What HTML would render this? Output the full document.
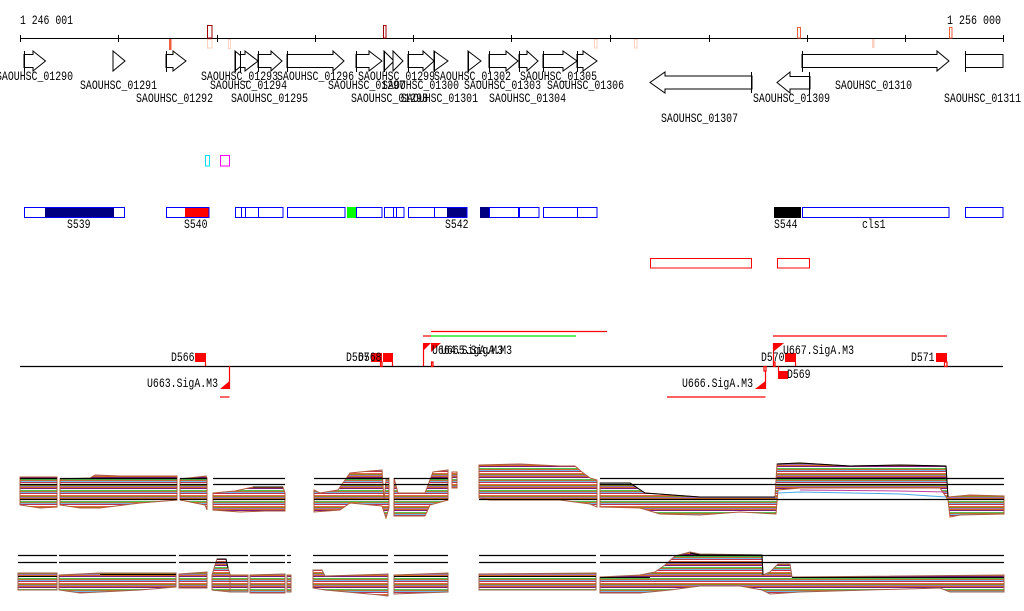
<!DOCTYPE html>
<html><head><meta charset="utf-8"><style>
html,body{margin:0;padding:0;background:#fff;}
svg{display:block;}
text{font-family:"Liberation Mono","DejaVu Sans Mono",monospace;font-size:13px;fill:#000;}
</style></head><body>
<svg width="1024" height="611" viewBox="0 0 1024 611" xmlns="http://www.w3.org/2000/svg">
<defs>
<pattern id="st" width="40" height="11" patternUnits="userSpaceOnUse">
<rect width="40" height="11" fill="#fff"/>
<rect y="0" width="40" height="1" fill="#e8603c"/>
<rect y="1" width="40" height="1" fill="#8a8a1a"/>
<rect y="2" width="40" height="1" fill="#a070c0"/>
<rect y="3" width="40" height="1" fill="#d2691e"/>
<rect y="4" width="40" height="1" fill="#7a1a7a"/>
<rect y="6" width="40" height="1" fill="#4fc04f"/>
<rect y="7" width="40" height="1" fill="#c07030"/>
<rect y="8" width="40" height="1" fill="#70b8e8"/>
<rect y="9" width="40" height="1" fill="#c03050"/>
</pattern>
</defs>

<!-- top axis -->
<text x="20" y="24" textLength="53" lengthAdjust="spacingAndGlyphs">1 246 001</text>
<text x="947" y="24" textLength="54" lengthAdjust="spacingAndGlyphs">1 256 000</text>
<line x1="20" y1="38.5" x2="1003" y2="38.5" stroke="#000" stroke-width="1"/>
<g stroke="#000" stroke-width="1">
<line x1="20.5" y1="35" x2="20.5" y2="42"/><line x1="118.5" y1="35" x2="118.5" y2="42"/>
<line x1="217.5" y1="35" x2="217.5" y2="42"/><line x1="315.5" y1="35" x2="315.5" y2="42"/>
<line x1="413.5" y1="35" x2="413.5" y2="42"/><line x1="511.5" y1="35" x2="511.5" y2="42"/>
<line x1="610.5" y1="35" x2="610.5" y2="42"/><line x1="709.5" y1="35" x2="709.5" y2="42"/>
<line x1="807.5" y1="35" x2="807.5" y2="42"/><line x1="905.5" y1="35" x2="905.5" y2="42"/>
<line x1="1003.5" y1="35" x2="1003.5" y2="42"/>
</g>
<rect x="169" y="39" width="2.5" height="11" fill="#f06040"/>
<rect x="207.5" y="25.5" width="4.5" height="12.5" fill="none" stroke="#a00000"/>
<rect x="207.5" y="39.5" width="4.5" height="8.5" fill="none" stroke="#fbd0c0"/>
<rect x="228.5" y="39.5" width="2" height="9" fill="none" stroke="#fbd0c0"/>
<rect x="383.5" y="25.5" width="2.5" height="12.5" fill="none" stroke="#a00000"/>
<rect x="594.5" y="39.5" width="2.5" height="8.5" fill="none" stroke="#fbd0c0"/>
<rect x="634.5" y="39.5" width="2.5" height="8.5" fill="none" stroke="#fbd0c0"/>
<rect x="797.5" y="27.5" width="3" height="10.5" fill="none" stroke="#f06040"/>
<rect x="872" y="39" width="2.5" height="9" fill="#fbd0c0"/>
<rect x="949.5" y="27.5" width="2.5" height="10.5" fill="none" stroke="#f06040"/>

<!-- genes -->
<g fill="#fff" stroke="#000" stroke-width="1">
<polygon points="24,54.5 33,54.5 33,51 45.5,61 33,71 33,67.5 24,67.5"/>
<polygon points="113,51 125,61 113,71"/>
<polygon points="166,54.5 173,54.5 173,51 186,61 173,71 173,67.5 166,67.5"/>
<polygon points="235,51 247,61 235,71"/>
<polygon points="240.5,54.5 245,54.5 245,51 258,61 245,71 245,67.5 240.5,67.5"/>
<polygon points="258,54.5 271,54.5 271,51 282,61 271,71 271,67.5 258,67.5"/>
<polygon points="287,54.5 333,54.5 333,51 344,61 333,71 333,67.5 287,67.5"/>
<polygon points="356,54.5 369,54.5 369,51 382,61 369,71 369,67.5 356,67.5"/>
<polygon points="384,51 394,61 384,71"/>
<polygon points="393,51 403,61 393,71"/>
<polygon points="408,54.5 423,54.5 423,51 434,61 423,71 423,67.5 408,67.5"/>
<polygon points="434,51 448,61 434,71"/>
<polygon points="468,51 481,61 468,71"/>
<polygon points="489,54.5 506,54.5 506,51 518,61 506,71 506,67.5 489,67.5"/>
<polygon points="519,54.5 527,54.5 527,51 538,61 527,71 527,67.5 519,67.5"/>
<polygon points="543,54.5 563,54.5 563,51 577,61 563,71 563,67.5 543,67.5"/>
<polygon points="577,54.5 583,54.5 583,51 597,61 583,71 583,67.5 577,67.5"/>
<polygon points="802,54.5 937,54.5 937,51 949,61 937,71 937,67.5 802,67.5"/>
<rect x="965.5" y="54.5" width="37.5" height="13"/>
<polygon points="752,76 665,76 665,72 650,82.5 665,93 665,89 752,89"/>
<polygon points="810,76.5 790,76.5 790,72 777,82.5 790,93 790,89 810,89"/>
</g>
<g stroke="#000" stroke-width="1">
<line x1="24.5" y1="51" x2="24.5" y2="72"/><line x1="166.5" y1="51" x2="166.5" y2="72"/>
<line x1="235.5" y1="51" x2="235.5" y2="72"/><line x1="240.5" y1="51" x2="240.5" y2="72"/>
<line x1="258.5" y1="51" x2="258.5" y2="72"/><line x1="287.5" y1="51" x2="287.5" y2="72"/>
<line x1="356.5" y1="51" x2="356.5" y2="72"/><line x1="384.5" y1="51" x2="384.5" y2="72"/>
<line x1="408.5" y1="51" x2="408.5" y2="72"/><line x1="434.5" y1="51" x2="434.5" y2="72"/>
<line x1="468.5" y1="51" x2="468.5" y2="72"/><line x1="489.5" y1="51" x2="489.5" y2="72"/>
<line x1="519.5" y1="51" x2="519.5" y2="72"/><line x1="543.5" y1="51" x2="543.5" y2="72"/>
<line x1="577.5" y1="51" x2="577.5" y2="72"/><line x1="802.5" y1="51" x2="802.5" y2="72"/>
<line x1="965.5" y1="51" x2="965.5" y2="72"/>
<line x1="751.5" y1="72" x2="751.5" y2="93"/><line x1="809.5" y1="72" x2="809.5" y2="94"/>
</g>
<g>
<text x="-4" y="80" textLength="77" lengthAdjust="spacingAndGlyphs">SAOUHSC_01290</text>
<text x="201" y="80" textLength="77" lengthAdjust="spacingAndGlyphs">SAOUHSC_01293</text>
<text x="277" y="80" textLength="77" lengthAdjust="spacingAndGlyphs">SAOUHSC_01296</text>
<text x="358" y="80" textLength="77" lengthAdjust="spacingAndGlyphs">SAOUHSC_01299</text>
<text x="434" y="80" textLength="77" lengthAdjust="spacingAndGlyphs">SAOUHSC_01302</text>
<text x="520" y="80" textLength="77" lengthAdjust="spacingAndGlyphs">SAOUHSC_01305</text>
<text x="80" y="89" textLength="77" lengthAdjust="spacingAndGlyphs">SAOUHSC_01291</text>
<text x="210" y="89" textLength="77" lengthAdjust="spacingAndGlyphs">SAOUHSC_01294</text>
<text x="328" y="89" textLength="77" lengthAdjust="spacingAndGlyphs">SAOUHSC_01297</text>
<text x="382" y="89" textLength="77" lengthAdjust="spacingAndGlyphs">SAOUHSC_01300</text>
<text x="464" y="89" textLength="77" lengthAdjust="spacingAndGlyphs">SAOUHSC_01303</text>
<text x="547" y="89" textLength="77" lengthAdjust="spacingAndGlyphs">SAOUHSC_01306</text>
<text x="835" y="89" textLength="77" lengthAdjust="spacingAndGlyphs">SAOUHSC_01310</text>
<text x="136" y="102" textLength="77" lengthAdjust="spacingAndGlyphs">SAOUHSC_01292</text>
<text x="231" y="102" textLength="77" lengthAdjust="spacingAndGlyphs">SAOUHSC_01295</text>
<text x="351" y="102" textLength="77" lengthAdjust="spacingAndGlyphs">SAOUHSC_01298</text>
<text x="401" y="102" textLength="77" lengthAdjust="spacingAndGlyphs">SAOUHSC_01301</text>
<text x="489" y="102" textLength="77" lengthAdjust="spacingAndGlyphs">SAOUHSC_01304</text>
<text x="753" y="102" textLength="77" lengthAdjust="spacingAndGlyphs">SAOUHSC_01309</text>
<text x="944" y="102" textLength="77" lengthAdjust="spacingAndGlyphs">SAOUHSC_01311</text>
<text x="661" y="122" textLength="77" lengthAdjust="spacingAndGlyphs">SAOUHSC_01307</text>
</g>

<!-- sRNA small boxes -->
<rect x="205.5" y="155.5" width="4" height="10.5" fill="none" stroke="#00e0ff"/>
<rect x="220.5" y="155.5" width="9" height="10.5" fill="none" stroke="#ff00ff"/>

<!-- feature boxes -->
<rect x="45" y="207" width="69" height="11" fill="#000080"/>
<rect x="185" y="207" width="24" height="11" fill="#ff0000"/>
<rect x="347" y="207" width="9" height="11" fill="#00ff00"/>
<rect x="447" y="207" width="20" height="11" fill="#000080"/>
<rect x="480" y="207" width="9" height="11" fill="#000080"/>
<rect x="774" y="207" width="27" height="11" fill="#000000"/>
<g fill="none" stroke="#0000ff" stroke-width="1">
<rect x="24.5" y="207.5" width="100" height="10"/>
<rect x="166.5" y="207.5" width="42.5" height="10"/>
<rect x="235.5" y="207.5" width="47.5" height="10"/>
<line x1="241.5" y1="207.5" x2="241.5" y2="217.5"/><line x1="245.5" y1="207.5" x2="245.5" y2="217.5"/><line x1="258.5" y1="207.5" x2="258.5" y2="217.5"/>
<rect x="287.5" y="207.5" width="57.5" height="10"/>
<rect x="356.5" y="207.5" width="25.5" height="10"/>
<rect x="384.5" y="207.5" width="19.5" height="10"/>
<line x1="393.5" y1="207.5" x2="393.5" y2="217.5"/><line x1="396.5" y1="207.5" x2="396.5" y2="217.5"/>
<rect x="408.5" y="207.5" width="58.5" height="10"/>
<line x1="434.5" y1="207.5" x2="434.5" y2="217.5"/>
<rect x="489.5" y="207.5" width="29" height="10"/>
<rect x="519.5" y="207.5" width="19.5" height="10"/>
<rect x="543.5" y="207.5" width="53.5" height="10"/>
<line x1="577.5" y1="207.5" x2="577.5" y2="217.5"/>
<rect x="802.5" y="207.5" width="146.5" height="10"/>
<rect x="965.5" y="207.5" width="37.5" height="10"/>
</g>
<text x="67" y="228" textLength="23.5" lengthAdjust="spacingAndGlyphs">S539</text>
<text x="184" y="228" textLength="23.5" lengthAdjust="spacingAndGlyphs">S540</text>
<text x="445" y="228" textLength="23.5" lengthAdjust="spacingAndGlyphs">S542</text>
<text x="774" y="228" textLength="23.5" lengthAdjust="spacingAndGlyphs">S544</text>
<text x="862" y="228" textLength="23.5" lengthAdjust="spacingAndGlyphs">cls1</text>

<rect x="650.5" y="258.5" width="101" height="9.5" fill="none" stroke="#ff0000"/>
<rect x="777.5" y="258.5" width="32" height="9.5" fill="none" stroke="#ff0000"/>

<!-- transcript track -->
<line x1="20" y1="366.5" x2="1003" y2="366.5" stroke="#000" stroke-width="1.2"/>
<g stroke="#ff0000" stroke-width="1.2" fill="none">
<line x1="423" y1="336" x2="431" y2="336"/>
<line x1="431" y1="331.5" x2="607" y2="331.5"/>
<line x1="773" y1="336" x2="947" y2="336"/>
<line x1="220" y1="397" x2="229.5" y2="397"/>
<line x1="667" y1="397" x2="765.5" y2="397"/>
<line x1="205.5" y1="362" x2="205.5" y2="366"/>
<line x1="229.5" y1="366" x2="229.5" y2="389"/>
<rect x="380.5" y="362" width="1.5" height="4.5"/>
<line x1="392.5" y1="362" x2="392.5" y2="366"/>
<line x1="423.5" y1="343" x2="423.5" y2="366"/>
<rect x="431.5" y="362" width="1.5" height="4.5"/>
<line x1="773.5" y1="343" x2="773.5" y2="366"/>
<rect x="773.5" y="362" width="1.5" height="4.5"/>
<line x1="795.5" y1="362" x2="795.5" y2="366"/>
<line x1="778.5" y1="366" x2="778.5" y2="371"/>
<line x1="765.5" y1="371" x2="765.5" y2="389"/>
<rect x="764" y="366.5" width="2" height="4.5"/>
<rect x="944.5" y="362" width="2.5" height="4.5"/>
</g>
<line x1="431" y1="336" x2="576" y2="336" stroke="#00e000" stroke-width="1.2"/>
<g fill="#ff0000">
<rect x="195" y="353" width="11" height="9"/>
<rect x="371" y="353" width="11" height="9"/>
<rect x="383" y="353" width="10" height="9"/>
<rect x="785" y="353" width="11" height="9"/>
<rect x="778" y="371" width="10" height="8"/>
<rect x="936" y="353" width="11" height="9"/>
<polygon points="220,389 229.5,389 229.5,381"/>
<polygon points="755,389 765.5,389 765.5,381"/>
<polygon points="423,343 431,343 423,351"/>
<polygon points="431,343 441,343 431,352"/>
<polygon points="773,343 784,343 773,352"/>
</g>
<text x="171" y="361" textLength="23.5" lengthAdjust="spacingAndGlyphs">D566</text>
<text x="346" y="361" textLength="23.5" lengthAdjust="spacingAndGlyphs">D567</text>
<text x="358" y="361" textLength="23.5" lengthAdjust="spacingAndGlyphs">D568</text>
<text x="147" y="387" textLength="71" lengthAdjust="spacingAndGlyphs">U663.SigA.M3</text>
<text x="432" y="354" textLength="71" lengthAdjust="spacingAndGlyphs">U664.SigA.M3</text>
<text x="441" y="354" textLength="71" lengthAdjust="spacingAndGlyphs">U665.SigA.M3</text>
<text x="783" y="354" textLength="71" lengthAdjust="spacingAndGlyphs">U667.SigA.M3</text>
<text x="761" y="361" textLength="23.5" lengthAdjust="spacingAndGlyphs">D570</text>
<text x="787" y="378" textLength="23.5" lengthAdjust="spacingAndGlyphs">D569</text>
<text x="682" y="387" textLength="71" lengthAdjust="spacingAndGlyphs">U666.SigA.M3</text>
<text x="911" y="361" textLength="23.5" lengthAdjust="spacingAndGlyphs">D571</text>

<!-- expression track A -->
<g fill="url(#st)" stroke="#b05a3a" stroke-width="1">
<polygon points="20,477 57,477 57,507 40,508 20,505"/>
<polygon points="60,479 90,478 95,475 120,476 177,476 177,500 140,503 100,508 80,508 60,505"/>
<polygon points="180,479 206,476 207,478 207,510 205,505 180,500"/>
<polygon points="213,493 235,491 253,487 283,487 285,493 285,511 265,511 240,512 213,510"/>
<polygon points="314,490 320,493 338,490 350,473 370,471 382,470 384,500 386,480 389,478 389,508 386,518 382,506 350,503 340,510 314,512"/>
<polygon points="394,478 398,493 425,493 433,472 448,470 448,500 430,505 425,516 394,516"/>
<polygon points="452,472 457,472 457,488 452,488"/>
<polygon points="479,465 520,464 560,466 575,466 582,472 590,478 597,480 597,507 590,504 560,500 520,500 490,500 479,498"/>
<polygon points="600,483 630,483 645,493 700,497 775,497 777,464 800,463 850,466 900,465 946,466 948,497 970,495 1004,496 1004,514 960,515 950,517 948,500 940,488 800,488 778,490 776,514 740,512 700,515 660,514 640,508 600,507"/>
</g>
<g fill="none" stroke-width="1">
<polyline points="778,493 800,492 900,494 946,497" stroke="#4aa8e8"/>
<polyline points="800,490 900,491 946,492" stroke="#c040a0"/>
<polyline points="600,483 630,483 645,493 700,497 775,497" stroke="#000"/>
<polyline points="777,464 800,463 850,466 900,465 946,466 948,497" stroke="#000"/>
<polyline points="253,487 283,487" stroke="#000"/>
</g>
<g stroke="#000" stroke-width="1.2">
<line x1="20" y1="478.5" x2="57" y2="478.5"/><line x1="20" y1="484.5" x2="57" y2="484.5"/><line x1="20" y1="499.5" x2="57" y2="499.5"/>
<line x1="60" y1="478.5" x2="177" y2="478.5"/><line x1="60" y1="484.5" x2="177" y2="484.5"/><line x1="60" y1="499.5" x2="177" y2="499.5"/>
<line x1="180" y1="478.5" x2="207" y2="478.5"/><line x1="180" y1="484.5" x2="207" y2="484.5"/><line x1="180" y1="499.5" x2="207" y2="499.5"/>
<line x1="213" y1="478.5" x2="285" y2="478.5"/><line x1="213" y1="484.5" x2="285" y2="484.5"/><line x1="213" y1="499.5" x2="285" y2="499.5"/>
<line x1="314" y1="478.5" x2="389" y2="478.5"/><line x1="314" y1="484.5" x2="389" y2="484.5"/><line x1="314" y1="499.5" x2="389" y2="499.5"/>
<line x1="394" y1="478.5" x2="448" y2="478.5"/><line x1="394" y1="484.5" x2="448" y2="484.5"/><line x1="394" y1="499.5" x2="448" y2="499.5"/>
<line x1="479" y1="499.5" x2="597" y2="499.5"/>
<line x1="600" y1="478.5" x2="1004" y2="478.5"/><line x1="600" y1="484.5" x2="1004" y2="484.5"/><line x1="600" y1="499.5" x2="1004" y2="499.5"/>
</g>

<!-- expression track B -->
<g fill="url(#st)" stroke="#a0604a" stroke-width="1">
<polygon points="18,573 57,573 57,590 18,590"/>
<polygon points="59,575 100,573 176,573 176,587 140,590 100,592 80,593 59,590"/>
<polygon points="179,574 207,572 207,588 179,588"/>
<polygon points="212,575 215,565 217,559 226,559 228,568 230,574 230,592 212,590"/>
<polygon points="230,575 248,575 248,592 230,592"/>
<polygon points="250,575 285,574 285,593 250,593"/>
<polygon points="287,575 291,575 291,592 287,592"/>
<polygon points="313,570 322,570 325,576 388,574 388,596 380,595 325,590 313,588"/>
<polygon points="394,575 448,573 448,592 394,594"/>
<polygon points="479,574 596,573 596,590 479,590"/>
<polygon points="600,577 640,575 655,572 665,565 675,556 690,552 700,554 762,555 763,575 770,572 778,564 790,564 792,577 1004,575 1004,592 950,592 940,588 800,592 770,594 762,590 740,586 700,586 670,590 640,593 600,593"/>
</g>
<g fill="none" stroke="#000" stroke-width="1">
<polyline points="217,559 226,559 228,568"/>
<polyline points="690,553 700,555 762,555 763,575"/>
<line x1="18" y1="576.5" x2="57" y2="576.5"/><line x1="100" y1="574.5" x2="176" y2="574.5"/>
<line x1="394" y1="576.5" x2="448" y2="576.5"/><line x1="479" y1="576.5" x2="596" y2="576.5"/>
<line x1="600" y1="577.5" x2="650" y2="577.5"/><line x1="792" y1="577.5" x2="1004" y2="577.5"/>
</g>
<g stroke="#000" stroke-width="1.2">
<line x1="18" y1="555.5" x2="57" y2="555.5"/><line x1="18" y1="562.5" x2="57" y2="562.5"/>
<line x1="59" y1="555.5" x2="176" y2="555.5"/><line x1="59" y1="562.5" x2="176" y2="562.5"/>
<line x1="179" y1="555.5" x2="248" y2="555.5"/><line x1="179" y1="562.5" x2="248" y2="562.5"/>
<line x1="250" y1="555.5" x2="285" y2="555.5"/><line x1="250" y1="562.5" x2="285" y2="562.5"/>
<line x1="287" y1="555.5" x2="291" y2="555.5"/><line x1="287" y1="562.5" x2="291" y2="562.5"/>
<line x1="313" y1="555.5" x2="388" y2="555.5"/><line x1="313" y1="562.5" x2="388" y2="562.5"/>
<line x1="394" y1="555.5" x2="448" y2="555.5"/><line x1="394" y1="562.5" x2="448" y2="562.5"/>
<line x1="479" y1="555.5" x2="596" y2="555.5"/><line x1="479" y1="562.5" x2="596" y2="562.5"/>
<line x1="600" y1="555.5" x2="1004" y2="555.5"/><line x1="600" y1="562.5" x2="1004" y2="562.5"/>
</g>
</svg>
</body></html>
